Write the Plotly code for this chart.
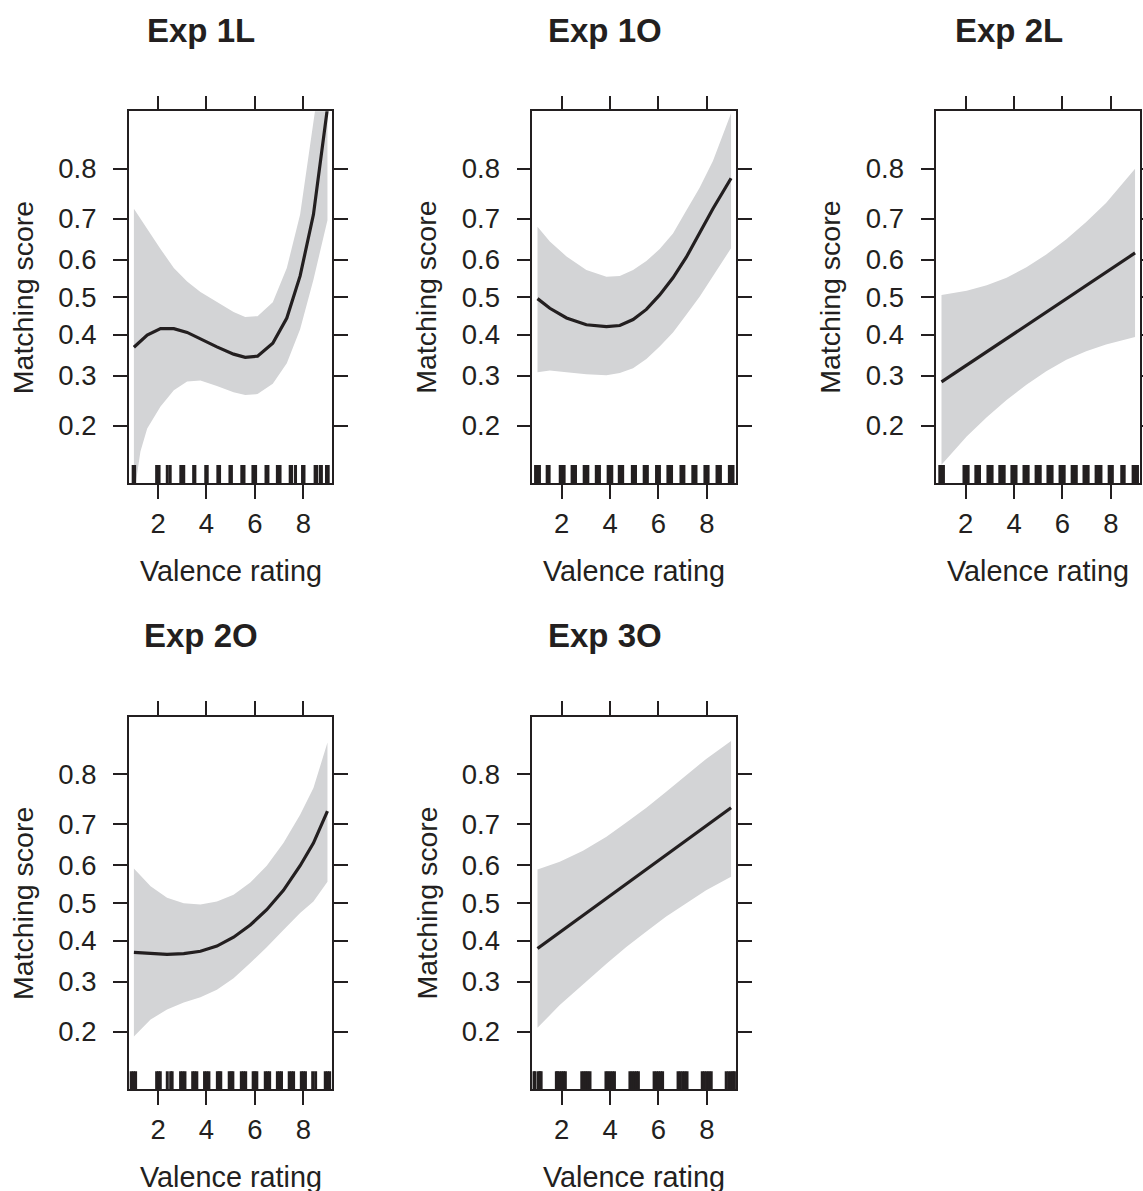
import numpy as np
import plotly.graph_objects as go

# ---------------- data ----------------
titles = ["Exp 1L", "Exp 1O", "Exp 2L", "Exp 2O", "Exp 3O"]
x_title = "Valence rating"
y_title = "Matching score"
x_ticks = [2, 4, 6, 8]
y_ticks = [0.2, 0.3, 0.4, 0.5, 0.6, 0.7, 0.8]
y_tick_text = ["0.2", "0.3", "0.4", "0.5", "0.6", "0.7", "0.8"]

# Exp 1L
line1_x = [1.0, 1.55, 2.10, 2.65, 3.20, 3.75, 4.43, 5.12, 5.60, 6.11, 6.74, 7.32, 7.87, 8.42, 9.0]
fit1 = [0.368, 0.399, 0.416, 0.416, 0.406, 0.389, 0.369, 0.351, 0.343, 0.346, 0.378, 0.444, 0.557, 0.709, 0.885]
band1_x = [1.0, 1.27, 1.55, 2.10, 2.65, 3.20, 3.75, 4.43, 5.12, 5.60, 6.11, 6.74, 7.32, 7.87, 8.42, 9.0]
upper1 = [0.722, 0.700, 0.674, 0.627, 0.578, 0.542, 0.514, 0.486, 0.460, 0.447, 0.449, 0.486, 0.578, 0.709, 0.863, 0.950]
lower1 = [0.105, 0.159, 0.195, 0.235, 0.268, 0.287, 0.289, 0.277, 0.264, 0.258, 0.260, 0.282, 0.329, 0.414, 0.547, 0.696]
rug1 = [0.97, 1.03, 1.94, 2.04, 2.38, 2.5, 2.94, 3.0, 3.06, 3.47, 3.52, 3.97, 4.03, 4.47, 4.54,
        4.97, 5.03, 5.46, 5.55, 5.92, 5.98, 6.03, 6.46, 6.54, 6.93, 6.98, 7.04, 7.46, 7.52, 7.68,
        7.97, 8.03, 8.49, 8.55, 8.7, 8.75, 8.96, 9.03]

# Exp 1O
line2_x = [1.0, 1.51, 2.20, 3.02, 3.85, 4.40, 4.95, 5.50, 6.05, 6.60, 7.15, 7.70, 8.25, 9.0]
fit2 = [0.496, 0.470, 0.444, 0.426, 0.421, 0.424, 0.440, 0.467, 0.506, 0.552, 0.606, 0.665, 0.722, 0.783]
band2_x = line2_x
upper2 = [0.681, 0.646, 0.608, 0.573, 0.555, 0.557, 0.573, 0.596, 0.627, 0.665, 0.718, 0.765, 0.813, 0.879]
lower2 = [0.308, 0.312, 0.308, 0.303, 0.301, 0.306, 0.317, 0.339, 0.370, 0.406, 0.453, 0.501, 0.557, 0.629]
rug2 = [0.92, 1.0, 1.08, 1.4, 1.48, 1.94, 2.02, 2.1, 2.43, 2.5, 2.57, 2.93, 3.0, 3.08, 3.43, 3.5,
        3.56, 3.92, 4.0, 4.07, 4.38, 4.45, 4.52, 4.92, 5.0, 5.05, 5.41, 5.48, 5.54, 5.92, 6.0, 6.04,
        6.39, 6.46, 6.54, 6.93, 7.0, 7.05, 7.42, 7.5, 7.55, 7.92, 8.0, 8.05, 8.42, 8.5, 8.56, 8.93,
        9.0, 9.08]

# Exp 2L
line3_x = [1.0, 9.0]
fit3 = [0.286, 0.617]
band3_x = [1.0, 1.49, 2.04, 2.87, 3.69, 4.51, 5.33, 6.16, 6.98, 7.80, 9.0]
upper3 = [0.506, 0.511, 0.517, 0.532, 0.552, 0.580, 0.613, 0.651, 0.692, 0.734, 0.800]
lower3 = [0.141, 0.159, 0.182, 0.215, 0.248, 0.280, 0.310, 0.337, 0.358, 0.375, 0.394]
rug3 = [0.93, 1.0, 1.08, 1.93, 2.01, 2.1, 2.42, 2.5, 2.57, 2.92, 3.0, 3.09, 3.41, 3.5, 3.59, 3.91,
        4.0, 4.08, 4.41, 4.5, 4.58, 4.91, 5.0, 5.08, 5.4, 5.49, 5.57, 5.9, 5.99, 6.07, 6.4, 6.49,
        6.57, 6.89, 6.98, 7.06, 7.39, 7.49, 7.59, 7.93, 8.0, 8.06, 8.45, 8.55, 8.92, 9.01, 9.1]

# Exp 2O
line4_x = [1.0, 1.69, 2.37, 3.06, 3.75, 4.43, 5.12, 5.81, 6.49, 7.18, 7.87, 8.42, 9.0]
fit4 = [0.370, 0.367, 0.365, 0.367, 0.373, 0.386, 0.409, 0.441, 0.482, 0.534, 0.599, 0.656, 0.729]
band4_x = line4_x
upper4 = [0.592, 0.545, 0.514, 0.499, 0.496, 0.504, 0.522, 0.555, 0.599, 0.656, 0.721, 0.775, 0.849]
lower4 = [0.192, 0.222, 0.241, 0.255, 0.266, 0.282, 0.308, 0.344, 0.383, 0.428, 0.473, 0.504, 0.557]
rug4 = [0.89, 0.98, 1.07, 1.94, 2.02, 2.09, 2.38, 2.52, 2.58, 2.93, 3.02, 3.11, 3.43, 3.51, 3.6,
        3.92, 4.01, 4.1, 4.45, 4.52, 4.59, 4.94, 5.02, 5.09, 5.44, 5.53, 5.62, 5.93, 6.0, 6.08,
        6.43, 6.52, 6.61, 6.93, 7.02, 7.1, 7.42, 7.51, 7.6, 7.92, 8.0, 8.09, 8.39, 8.51, 8.91,
        9.0, 9.09]

# Exp 3O
line5_x = [1.0, 9.0]
fit5 = [0.380, 0.736]
band5_x = [1.0, 1.92, 2.88, 3.85, 4.67, 5.50, 6.32, 7.15, 7.97, 9.0]
upper5 = [0.589, 0.609, 0.637, 0.671, 0.704, 0.736, 0.768, 0.798, 0.825, 0.851]
lower5 = [0.207, 0.250, 0.294, 0.342, 0.384, 0.424, 0.464, 0.499, 0.534, 0.570]
rug5 = [0.85, 0.9, 1.04, 1.1, 1.15, 1.78, 1.83, 1.92, 2.0, 2.08, 2.15, 2.83, 2.92, 3.0, 3.08,
        3.17, 3.83, 3.91, 4.0, 4.09, 4.18, 4.82, 4.91, 5.0, 5.09, 5.17, 5.82, 5.91, 6.0, 6.09,
        6.17, 6.81, 6.9, 7.0, 7.09, 7.18, 7.81, 7.9, 8.0, 8.09, 8.18, 8.8, 8.9, 9.0, 9.08, 9.15]

panels = [
    (line1_x, fit1, band1_x, upper1, lower1, rug1),
    (line2_x, fit2, band2_x, upper2, lower2, rug2),
    (line3_x, fit3, band3_x, upper3, lower3, rug3),
    (line4_x, fit4, band4_x, upper4, lower4, rug4),
    (line5_x, fit5, band5_x, upper5, lower5, rug5),
]

# ---------------- layout constants ----------------
W, H = 1143, 1191
COLS_PX = [(128.7, 332.3), (532.3, 735.9), (936.3, 1139.9)]
ROWS_PX = [(111.3, 483.0), (716.7, 1089.3)]
X_RANGE = [0.785, 9.2]
Y_RANGE = [-2.005, 2.005]
RUG_H = 0.194          # rug height in logit units
FONT = "Liberation Sans, Arial, Helvetica, sans-serif"
INK = "#231f20"
BAND = "#d3d4d6"


def logit(p):
    p = np.asarray(p, dtype=float)
    return np.log(p / (1 - p))


fig = go.Figure()
layout = dict(
    width=W, height=H, margin=dict(l=0, r=0, t=0, b=0, autoexpand=False),
    paper_bgcolor="white", plot_bgcolor="white", showlegend=False,
    font=dict(family=FONT, size=27, color=INK),
)
annotations = []

for i, (lx, fy, bx, up, lo, rug) in enumerate(panels):
    r, c = divmod(i, 3)
    n = "" if i == 0 else str(i + 1)
    xa, ya = "x" + n, "y" + n
    x0p, x1p = COLS_PX[c]
    y0p, y1p = ROWS_PX[r]

    # confidence band
    fig.add_trace(go.Scatter(
        x=list(bx) + list(bx)[::-1],
        y=list(logit(up)) + list(logit(lo))[::-1],
        fill="toself", fillcolor=BAND, line=dict(width=0, color=BAND),
        mode="lines", hoverinfo="skip", xaxis=xa, yaxis=ya))
    # fitted line
    fig.add_trace(go.Scatter(
        x=lx, y=logit(fy), mode="lines",
        line=dict(color=INK, width=3.2), xaxis=xa, yaxis=ya))
    # rug
    rx, ry = [], []
    for v in rug:
        rx += [v, v, None]
        ry += [Y_RANGE[0], Y_RANGE[0] + RUG_H, None]
    fig.add_trace(go.Scatter(
        x=rx, y=ry, mode="lines", line=dict(color=INK, width=3),
        hoverinfo="skip", xaxis=xa, yaxis=ya))

    axis_common = dict(
        showline=True, linecolor=INK, linewidth=1.5, mirror="allticks",
        ticks="outside", ticklen=14, tickwidth=1.5, tickcolor=INK,
        showgrid=False, zeroline=False, automargin=False,
        tickfont=dict(family=FONT, size=27.5, color=INK),
    )
    layout["xaxis" + n] = dict(
        axis_common, domain=[x0p / W, x1p / W], anchor=ya, range=X_RANGE,
        tickvals=x_ticks, ticktext=[str(t) for t in x_ticks], ticklabelstandoff=1)
    layout["yaxis" + n] = dict(
        axis_common, domain=[1 - y1p / H, 1 - y0p / H], anchor=xa, range=Y_RANGE,
        tickvals=list(logit(y_ticks)), ticktext=y_tick_text, ticklabelstandoff=11)

    cx = (x0p + x1p) / 2
    cy = (y0p + y1p) / 2
    annotations.append(dict(
        text="<b>" + titles[i] + "</b>", x=(cx - 29.5) / W, y=1 - (y0p - 81) / H,
        xref="paper", yref="paper", showarrow=False, xanchor="center", yanchor="middle",
        font=dict(family=FONT, size=33, color=INK)))
    annotations.append(dict(
        text=x_title, x=cx / W, y=1 - (y1p + 88) / H,
        xref="paper", yref="paper", showarrow=False, xanchor="center", yanchor="middle",
        font=dict(family=FONT, size=28.8, color=INK)))
    annotations.append(dict(
        text=y_title, x=(x0p - 105.7) / W, y=1 - cy / H, textangle=-90,
        xref="paper", yref="paper", showarrow=False, xanchor="center", yanchor="middle",
        font=dict(family=FONT, size=28.5, color=INK)))

layout["annotations"] = annotations
fig.update_layout(**layout)
fig.write_html("out.html", config={"displayModeBar": False},
               post_script="document.body.style.margin='0';")
